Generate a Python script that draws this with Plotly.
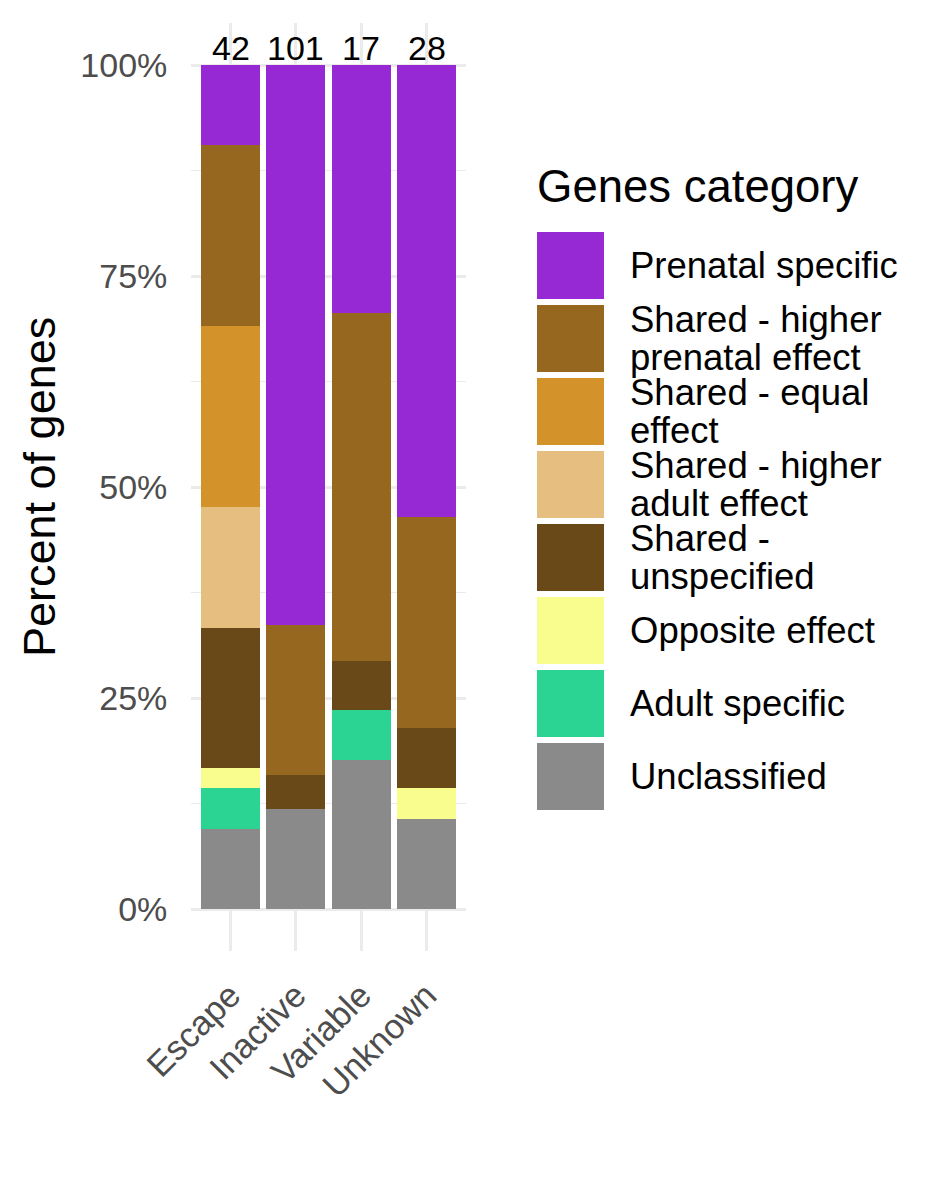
import plotly.graph_objects as go

# ---- data ----
categories = ["Escape", "Inactive", "Variable", "Unknown"]
gene_groups = [
    "Prenatal specific",
    "Shared - higher prenatal effect",
    "Shared - equal effect",
    "Shared - higher adult effect",
    "Shared - unspecified",
    "Opposite effect",
    "Adult specific",
    "Unclassified",
]
legend_lines = [
    ["Prenatal specific"],
    ["Shared - higher", "prenatal effect"],
    ["Shared - equal", "effect"],
    ["Shared - higher", "adult effect"],
    ["Shared -", "unspecified"],
    ["Opposite effect"],
    ["Adult specific"],
    ["Unclassified"],
]
colors = ["#9729D5", "#96671E", "#D4922A", "#E6BE80", "#6A4918", "#F9FD8D", "#2CD493", "#8A8A8A"]

# gene counts per group (rows follow gene_groups), columns follow categories
counts = {
    "Prenatal specific":               [4, 67, 5, 15],
    "Shared - higher prenatal effect": [9, 18, 7, 7],
    "Shared - equal effect":           [9, 0, 0, 0],
    "Shared - higher adult effect":    [6, 0, 0, 0],
    "Shared - unspecified":            [7, 4, 1, 2],
    "Opposite effect":                 [1, 0, 0, 1],
    "Adult specific":                  [2, 0, 1, 0],
    "Unclassified":                    [4, 12, 3, 3],
}
totals = [sum(counts[g][i] for g in gene_groups) for i in range(len(categories))]

y_tickvals = [0, 25, 50, 75, 100]
y_ticktext = ["0%", "25%", "50%", "75%", "100%"]

# ---- figure ----
OFF = 8                      # page body margin
W, H = 944 - 2 * OFF, 1181 - 2 * OFF
FONT = "Liberation Sans, Arial, sans-serif"

px_x = lambda p: (p - OFF) / W
px_y = lambda p: 1 - (p - OFF) / H

fig = go.Figure()
for g, c in reversed(list(zip(gene_groups, colors))):
    pct = [counts[g][i] / totals[i] * 100 for i in range(len(categories))]
    fig.add_trace(go.Bar(x=categories, y=pct, name=g, marker=dict(color=c, line=dict(width=0)),
                         showlegend=False))

annotations = []
for cat, n in zip(categories, totals):
    annotations.append(dict(x=cat, y=100, xref="x", yref="y", text=str(n), showarrow=False,
                            yanchor="bottom", xanchor="center", yshift=-4,
                            font=dict(family=FONT, size=34, color="black")))

# y axis title
annotations.append(dict(x=px_x(39), y=px_y(487), xref="paper", yref="paper", text="Percent of genes",
                        textangle=-90, showarrow=False, xanchor="center", yanchor="middle",
                        font=dict(family=FONT, size=45, color="black")))
# legend title
annotations.append(dict(x=px_x(535), y=px_y(186), xref="paper", yref="paper", text="Genes category",
                        showarrow=False, xanchor="left", yanchor="middle",
                        font=dict(family=FONT, size=45.5, color="black")))

shapes = []
key_top0, key_h, pitch = 232, 67, 73
for i, (lines, c) in enumerate(zip(legend_lines, colors)):
    top = key_top0 + i * pitch
    shapes.append(dict(type="rect", xref="paper", yref="paper", x0=px_x(537), x1=px_x(604),
                       y0=px_y(top + key_h), y1=px_y(top), fillcolor=c, line=dict(width=0)))
    cy = top + key_h / 2
    offs = [0] if len(lines) == 1 else [-19, 19]
    for ln, o in zip(lines, offs):
        annotations.append(dict(x=px_x(628), y=px_y(cy + o), xref="paper", yref="paper", text=ln,
                                showarrow=False, xanchor="left", yanchor="middle",
                                font=dict(family=FONT, size=36.5, color="black")))

fig.update_layout(
    width=W, height=H,
    margin=dict(l=0, r=0, t=0, b=0),
    paper_bgcolor="white", plot_bgcolor="white",
    barmode="stack", bargap=0.1,
    font=dict(family=FONT, color="#4D4D4D"),
    annotations=annotations, shapes=shapes,
    showlegend=False,
    xaxis=dict(domain=[px_x(191.3), px_x(465.7)], range=[-0.6, 3.6], type="category",
               showgrid=True, gridcolor="#EBEBEB", gridwidth=2.5, zeroline=False, showline=False,
               ticks="", tickangle=-45, tickfont=dict(family=FONT, size=34.5, color="#4D4D4D"),
               automargin=False, ticklabelstandoff=16),
    yaxis=dict(domain=[px_y(951.2), px_y(22.8)], range=[-5, 105],
               tickvals=y_tickvals, ticktext=y_ticktext,
               showgrid=True, gridcolor="#EBEBEB", gridwidth=2.5, zeroline=False, showline=False,
               ticks="", tickfont=dict(family=FONT, size=34, color="#4D4D4D"),
               automargin=False, ticklabelstandoff=23,
               minor=dict(tickvals=[12.5, 37.5, 62.5, 87.5], showgrid=True, gridcolor="#EBEBEB",
                          gridwidth=1.2)),
)

fig.write_html("out.html")
